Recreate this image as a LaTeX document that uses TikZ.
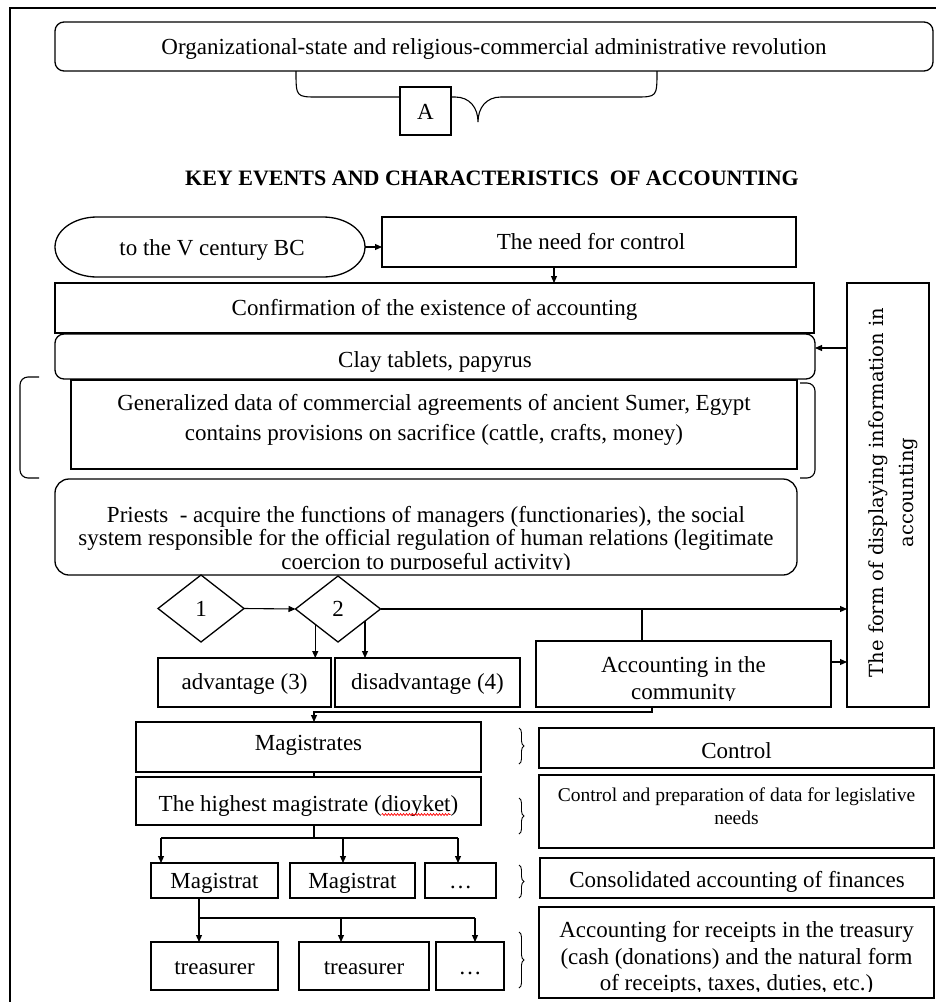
\documentclass[tikz,border=0pt]{standalone}
\usepackage{fontspec}
\setmainfont{Liberation Serif}
\newfontfamily\vertfont{DejaVu Serif}
\usetikzlibrary{arrows.meta,shapes.geometric,decorations.pathreplacing,decorations.pathmorphing}
\newsavebox\wavebox
\newcommand\redwavy[1]{\sbox\wavebox{#1}\rlap{\usebox\wavebox}\tikz[baseline=0pt]{\useasboundingbox (0pt,0pt) rectangle (\wd\wavebox,0pt);\draw[red,line width=0.7pt,decorate,decoration={snake,segment length=3pt,amplitude=1pt}] (0pt,-3.5pt) -- (\wd\wavebox,-3.5pt);}}
\tikzset{
 box/.style={draw, line width=1.3pt, fill=white, inner sep=0pt, outer sep=0pt},
 rbox/.style={box, rounded corners=9pt},
 dia/.style={draw, line width=1.3pt, fill=white, diamond, inner sep=0pt, outer sep=0pt},
 txt/.style={inner sep=0pt, anchor=base, font=\fontsize{23}{27}\selectfont},
 conn/.style={line width=1.1pt},
 arr/.style={line width=1.1pt, -{Triangle[length=7pt,width=6pt]}},
 brc/.style={line width=0.9pt, decorate, decoration={brace, amplitude=5pt}},
}
\begin{document}
\begin{tikzpicture}[x=1pt,y=-1pt]
\useasboundingbox (0,0) rectangle (936,1002);
% frame
\draw[line width=1.3pt] (10,1002) -- (10,8) -- (936,8);

% top box and brace
\node[rbox, minimum width=878pt, minimum height=49pt] (top) at (494,46.5) {};
\node[txt] (topT) at (494,54) {Organizational-state and religious-commercial administrative revolution};
\draw[conn] (296,71) .. controls (296,97) .. (318,97) -- (455,97) .. controls (470,97) and (478,108) .. (478,122) .. controls (478,108) and (486,97) .. (501,97) -- (635,97) .. controls (657,97) .. (657,71);
\node[box, minimum width=51pt, minimum height=48pt] (A) at (425.5,111) {};
\node[txt] (AT) at (425.5,119) {A};

\node[txt, font=\bfseries\fontsize{22}{26}\selectfont] (title) at (492,185) {KEY EVENTS AND CHARACTERISTICS\ \ OF ACCOUNTING};

% oval
\node[minimum width=310pt, minimum height=60pt, inner sep=0pt] (oval) at (210,247) {};
\draw[line width=1.3pt] (97,217) -- (323,217) arc[start angle=90,end angle=-90,x radius=42pt,y radius=30pt] -- (97,277) arc[start angle=270,end angle=90,x radius=42pt,y radius=30pt] -- cycle;
\node[txt] (ovalT) at (212,255) {to the V century BC};

\node[box, minimum width=414pt, minimum height=50pt] (need) at (589,242) {};
\node[txt] (needT) at (591,249) {The need for control};

\node[box, minimum width=759pt, minimum height=50pt] (conf) at (434.5,308) {};
\node[txt] (confT) at (434.5,315) {Confirmation of the existence of accounting};

\node[rbox, minimum width=760pt, minimum height=45pt] (clay) at (435,356.5) {};
\node[txt] (clayT) at (435,367) {Clay tablets, papyrus};

% brackets
\draw[conn, rounded corners=8pt] (39,377) -- (20,377) -- (20,478) -- (39,478);
\draw[conn, rounded corners=8pt] (800,383) -- (815,383) -- (815,478) -- (800,478);

\node[box, minimum width=726pt, minimum height=89pt] (gen) at (434,424.5) {};
\node[txt] (genT1) at (434,410) {Generalized data of commercial agreements of ancient Sumer, Egypt};
\node[txt] (genT2) at (434,440) {contains provisions on sacrifice (cattle, crafts, money)};

\node[box, rounded corners=14pt, minimum width=742pt, minimum height=96pt] (pr) at (426,527) {};
\node[txt] (prT1) at (426,522) {Priests\ \ - acquire the functions of managers (functionaries), the social};
\node[txt] (prT2) at (426,545) {system responsible for the official regulation of human relations (legitimate};
\begin{scope}
\clip (60,550) rectangle (790,569);
\node[txt] (prT3) at (426,569.5) {coercion to purposeful activity)};
\end{scope}

% vertical box
\node[box, minimum width=82pt, minimum height=424pt] (vert) at (888,495) {};
\node[txt, rotate=90, font=\vertfont\fontsize{19.5}{23}\selectfont] (vertT1) at (883.5,492.5) {The form of displaying information in};
\node[txt, rotate=90, font=\vertfont\fontsize{19.5}{23}\selectfont] (vertT2) at (913.5,492.5) {accounting};

% diamonds
\node[dia, minimum width=86pt, minimum height=67pt] (d1) at (201,608.5) {};
\node[txt] (d1T) at (201,616) {1};
\node[dia, minimum width=85pt, minimum height=66pt] (d2) at (338,609) {};
\node[txt] (d2T) at (338,616) {2};

\node[box, minimum width=173pt, minimum height=49pt] (adv) at (244.5,682.5) {};
\node[txt] (advT) at (244.5,689) {advantage (3)};
\node[box, minimum width=185pt, minimum height=49pt] (dis) at (427.5,682.5) {};
\node[txt] (disT) at (427.5,689) {disadvantage (4)};

\node[box, minimum width=295pt, minimum height=66pt] (comm) at (683.5,674) {};
\node[txt] (commT1) at (683.5,672) {Accounting in the};
\begin{scope}
\clip (540,680) rectangle (828,700);
\node[txt] (commT2) at (683.5,699) {community};
\end{scope}

% magistrates
\node[box, minimum width=345pt, minimum height=50pt] (mags) at (308.5,747) {};
\node[txt] (magsT) at (308.5,750) {Magistrates};
\node[box, minimum width=345pt, minimum height=48pt] (high) at (308.5,801) {};
\node[txt] (highT) at (308.5,811) {The highest magistrate (\redwavy{dioyket})};

\node[box, minimum width=127pt, minimum height=35pt] (m1) at (214.5,880.5) {};
\node[txt] (m1T) at (214.5,888) {Magistrat};
\node[box, minimum width=125pt, minimum height=35pt] (m2) at (352.5,880.5) {};
\node[txt] (m2T) at (352.5,888) {Magistrat};
\node[box, minimum width=71pt, minimum height=35pt] (m3) at (460.5,880.5) {};
\node[txt] (m3T) at (460.5,888) {\dots};

\node[box, minimum width=127pt, minimum height=48pt] (t1) at (214.5,966) {};
\node[txt] (t1T) at (214.5,974) {treasurer};
\node[box, minimum width=130pt, minimum height=48pt] (t2) at (364,966) {};
\node[txt] (t2T) at (364,974) {treasurer};
\node[box, minimum width=68pt, minimum height=48pt] (t3) at (470,966) {};
\node[txt] (t3T) at (470,974) {\dots};

% right column
\node[box, minimum width=395pt, minimum height=40pt] (ctrl) at (736.5,748) {};
\node[txt] (ctrlT) at (736.5,758) {Control};
\node[box, minimum width=395pt, minimum height=73pt] (prep) at (736.5,811.5) {};
\node[txt, font=\fontsize{19.5}{23}\selectfont] (prepT1) at (736.5,801) {Control and preparation of data for legislative};
\node[txt, font=\fontsize{19.5}{23}\selectfont] (prepT2) at (736.5,824) {needs};
\node[box, minimum width=394pt, minimum height=40pt] (cons) at (737,878) {};
\node[txt] (consT) at (737,887) {Consolidated accounting of finances};
\node[box, minimum width=395pt, minimum height=91pt] (rec) at (736.5,952.5) {};
\node[txt] (recT1) at (736.5,937) {Accounting for receipts in the treasury};
\node[txt] (recT2) at (736.5,964) {(cash (donations) and the natural form};
\begin{scope}
\clip (545,970) rectangle (930,991);
\node[txt] (recT3) at (736.5,990.5) {of receipts, taxes, duties, etc.)};
\end{scope}

% braces
\draw[brc] (519,728) -- (519,764);
\draw[brc] (519,798) -- (519,834);
\draw[brc] (519,865) -- (519,898);
\draw[brc] (519,932) -- (519,988);

% connectors
\draw[arr] (oval.east) -- (need.west |- oval.east);
\draw[arr] (554,0 |- need.south) -- (554,0 |- conf.north);
\draw[arr] (vert.west |- 0,348) -- (clay.east |- 0,348);
\draw[arr] (d1.east) -- (d2.west);
\draw[arr] (d2.east) -- (vert.west |- d2.east);
\draw[conn] (642,0 |- d2.east) -- (642,0 |- comm.north);
\draw[arr] (d2.-146) -- (d2.-146 |- adv.north);
\draw[arr] (d2.-24) -- (d2.-24 |- dis.north);
\draw[arr] (comm.east |- 0,662) -- (vert.west |- 0,662);
\coordinate (cm) at (652,712);
\draw[arr] (652,0 |- comm.south) -- (cm) -| (314,0 |- mags.north);
\draw[conn] (314,0 |- mags.south) -- (314,0 |- high.north);
\coordinate (hj) at (314,838);
\coordinate (hl) at (161,838);
\coordinate (hm) at (343,838);
\coordinate (hr) at (458,838);
\draw[conn] (314,0 |- high.south) -- (hj);
\draw[conn] (hl) -- (hr);
\draw[arr] (hl) -- (hl |- m1.north);
\draw[arr] (hm) -- (hm |- m2.north);
\draw[arr] (hr) -- (hr |- m3.north);
\coordinate (tl) at (199,918);
\coordinate (tm) at (341,918);
\coordinate (tr) at (475,918);
\draw[conn] (tl |- m1.south) -- (tl) -- (tr);
\draw[arr] (tl) -- (tl |- t1.north);
\draw[arr] (tm) -- (tm |- t2.north);
\draw[arr] (tr) -- (tr |- t3.north);
\end{tikzpicture}
\end{document}
